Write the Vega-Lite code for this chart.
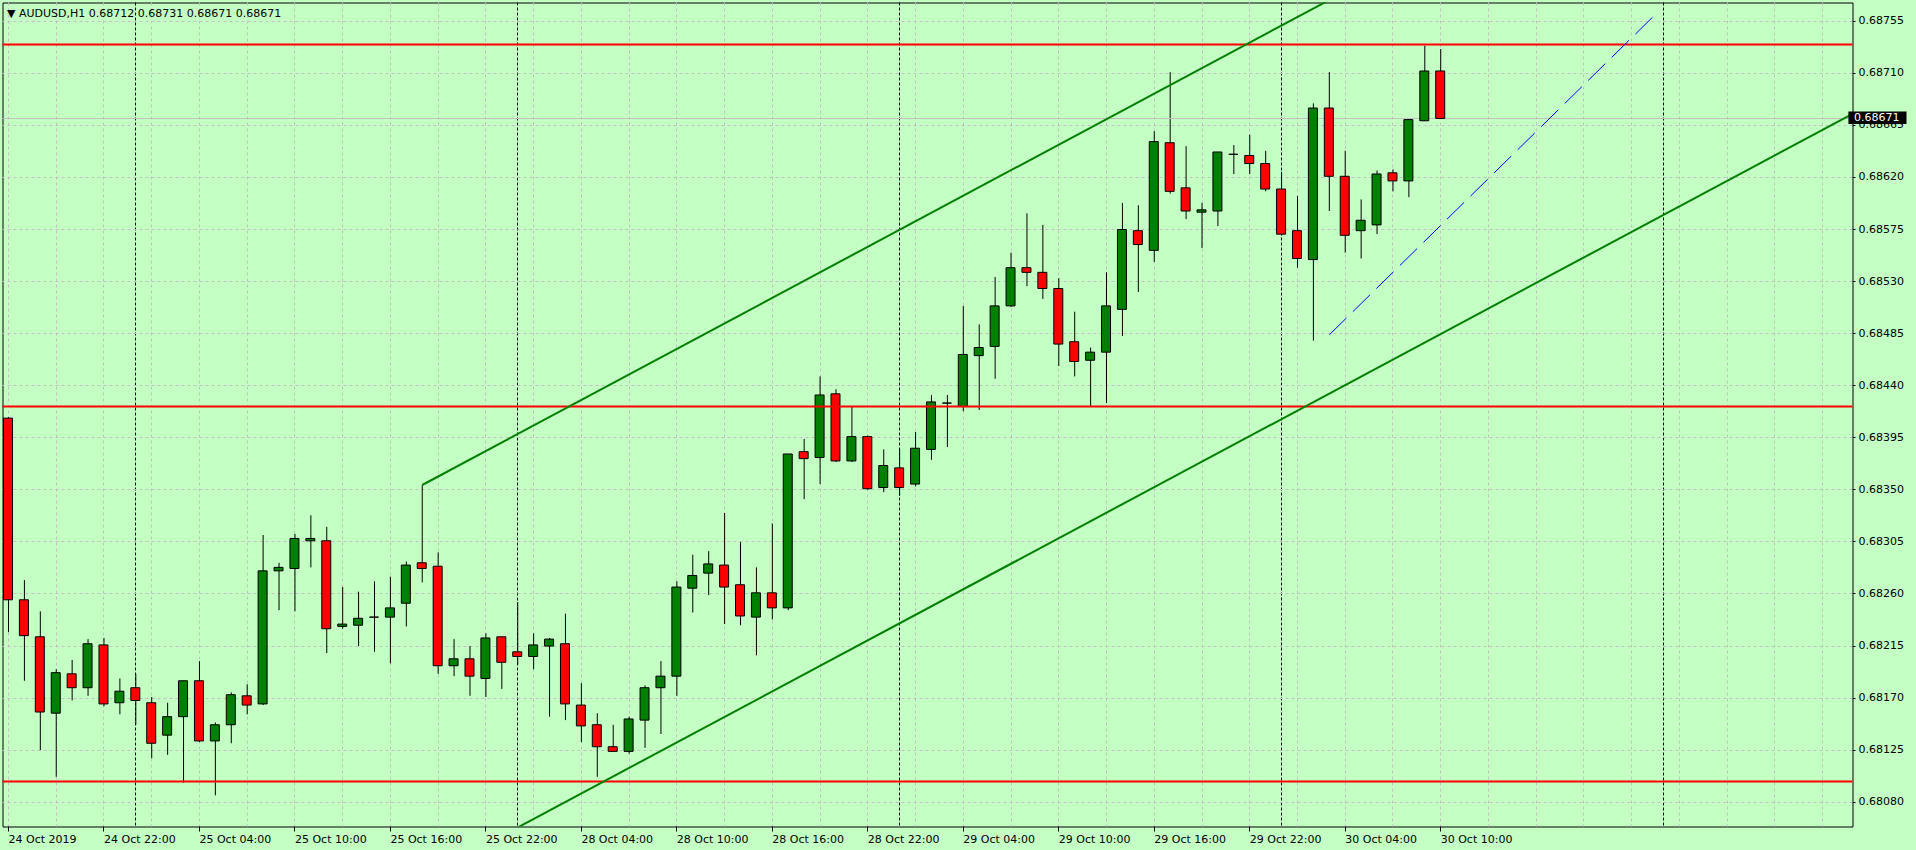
{
  "$schema": "https://vega.github.io/schema/vega-lite/v6.json",
  "width": 1850,
  "height": 824,
  "autosize": {"type": "none"},
  "padding": {"left": 2.5, "top": 2.5, "right": 63.5, "bottom": 23.5},
  "background": "#c4ffc4",
  "title": {
    "text": "▼ AUDUSD,H1  0.68712 0.68731 0.68671 0.68671",
    "anchor": "start",
    "frame": "group",
    "orient": "top",
    "offset": -16,
    "baseline": "top",
    "dx": 4.5,
    "font": "DejaVu Sans",
    "fontSize": 11,
    "fontWeight": "normal",
    "color": "#000000"
  },
  "datasets": {
    "candles": [
      {"i":0,"o":0.68412,"h":0.68413,"l":0.68227,"c":0.68255},
      {"i":1,"o":0.68255,"h":0.68272,"l":0.68185,"c":0.68224},
      {"i":2,"o":0.68223,"h":0.68245,"l":0.68125,"c":0.68158},
      {"i":3,"o":0.68157,"h":0.68195,"l":0.68102,"c":0.68192},
      {"i":4,"o":0.68191,"h":0.68203,"l":0.68168,"c":0.68179},
      {"i":5,"o":0.68179,"h":0.68221,"l":0.68172,"c":0.68217},
      {"i":6,"o":0.68216,"h":0.68222,"l":0.68163,"c":0.68165},
      {"i":7,"o":0.68166,"h":0.68187,"l":0.68156,"c":0.68176},
      {"i":8,"o":0.68179,"h":0.68191,"l":0.68147,"c":0.68168},
      {"i":9,"o":0.68166,"h":0.68171,"l":0.68118,"c":0.68131},
      {"i":10,"o":0.68138,"h":0.68166,"l":0.68121,"c":0.68154},
      {"i":11,"o":0.68154,"h":0.68185,"l":0.68097,"c":0.68185},
      {"i":12,"o":0.68185,"h":0.68202,"l":0.68132,"c":0.68133},
      {"i":13,"o":0.68133,"h":0.68149,"l":0.68086,"c":0.68147},
      {"i":14,"o":0.68147,"h":0.68175,"l":0.68131,"c":0.68173},
      {"i":15,"o":0.68172,"h":0.68182,"l":0.68156,"c":0.68164},
      {"i":16,"o":0.68165,"h":0.68311,"l":0.68164,"c":0.68280},
      {"i":17,"o":0.68280,"h":0.68287,"l":0.68246,"c":0.68283},
      {"i":18,"o":0.68282,"h":0.68312,"l":0.68245,"c":0.68308},
      {"i":19,"o":0.68306,"h":0.68328,"l":0.68283,"c":0.68308},
      {"i":20,"o":0.68306,"h":0.68318,"l":0.68209,"c":0.68230},
      {"i":21,"o":0.68232,"h":0.68266,"l":0.68230,"c":0.68234},
      {"i":22,"o":0.68233,"h":0.68262,"l":0.68215,"c":0.68239},
      {"i":23,"o":0.68240,"h":0.68271,"l":0.68210,"c":0.68240},
      {"i":24,"o":0.68240,"h":0.68275,"l":0.68200,"c":0.68248},
      {"i":25,"o":0.68252,"h":0.68288,"l":0.68232,"c":0.68285},
      {"i":26,"o":0.68287,"h":0.68354,"l":0.68270,"c":0.68282},
      {"i":27,"o":0.68284,"h":0.68296,"l":0.68191,"c":0.68198},
      {"i":28,"o":0.68198,"h":0.68221,"l":0.68189,"c":0.68204},
      {"i":29,"o":0.68204,"h":0.68215,"l":0.68172,"c":0.68189},
      {"i":30,"o":0.68187,"h":0.68226,"l":0.68171,"c":0.68222},
      {"i":31,"o":0.68223,"h":0.68223,"l":0.68178,"c":0.68201},
      {"i":32,"o":0.68210,"h":0.68253,"l":0.68199,"c":0.68206},
      {"i":33,"o":0.68206,"h":0.68226,"l":0.68195,"c":0.68216},
      {"i":34,"o":0.68215,"h":0.68222,"l":0.68154,"c":0.68221},
      {"i":35,"o":0.68217,"h":0.68243,"l":0.68151,"c":0.68165},
      {"i":36,"o":0.68164,"h":0.68183,"l":0.68132,"c":0.68146},
      {"i":37,"o":0.68147,"h":0.68157,"l":0.68102,"c":0.68128},
      {"i":38,"o":0.68128,"h":0.68147,"l":0.68124,"c":0.68124},
      {"i":39,"o":0.68124,"h":0.68154,"l":0.68122,"c":0.68152},
      {"i":40,"o":0.68151,"h":0.68181,"l":0.68127,"c":0.68179},
      {"i":41,"o":0.68179,"h":0.68202,"l":0.68139,"c":0.68189},
      {"i":42,"o":0.68189,"h":0.68271,"l":0.68172,"c":0.68266},
      {"i":43,"o":0.68265,"h":0.68294,"l":0.68244,"c":0.68276},
      {"i":44,"o":0.68278,"h":0.68297,"l":0.68259,"c":0.68286},
      {"i":45,"o":0.68285,"h":0.68330,"l":0.68234,"c":0.68266},
      {"i":46,"o":0.68268,"h":0.68305,"l":0.68233,"c":0.68241},
      {"i":47,"o":0.68240,"h":0.68283,"l":0.68207,"c":0.68261},
      {"i":48,"o":0.68261,"h":0.68321,"l":0.68238,"c":0.68248},
      {"i":49,"o":0.68248,"h":0.68381,"l":0.68246,"c":0.68381},
      {"i":50,"o":0.68383,"h":0.68394,"l":0.68342,"c":0.68377},
      {"i":51,"o":0.68378,"h":0.68448,"l":0.68355,"c":0.68432},
      {"i":52,"o":0.68433,"h":0.68437,"l":0.68374,"c":0.68375},
      {"i":53,"o":0.68375,"h":0.68422,"l":0.68374,"c":0.68396},
      {"i":54,"o":0.68396,"h":0.68397,"l":0.68350,"c":0.68351},
      {"i":55,"o":0.68352,"h":0.68385,"l":0.68348,"c":0.68371},
      {"i":56,"o":0.68369,"h":0.68385,"l":0.68345,"c":0.68352},
      {"i":57,"o":0.68355,"h":0.68400,"l":0.68353,"c":0.68386},
      {"i":58,"o":0.68385,"h":0.68432,"l":0.68376,"c":0.68426},
      {"i":59,"o":0.68425,"h":0.68432,"l":0.68387,"c":0.68425},
      {"i":60,"o":0.68422,"h":0.68509,"l":0.68418,"c":0.68467},
      {"i":61,"o":0.68466,"h":0.68493,"l":0.68419,"c":0.68473},
      {"i":62,"o":0.68474,"h":0.68534,"l":0.68446,"c":0.68509},
      {"i":63,"o":0.68509,"h":0.68555,"l":0.68508,"c":0.68542},
      {"i":64,"o":0.68542,"h":0.68589,"l":0.68526,"c":0.68538},
      {"i":65,"o":0.68538,"h":0.68579,"l":0.68515,"c":0.68524},
      {"i":66,"o":0.68524,"h":0.68533,"l":0.68457,"c":0.68476},
      {"i":67,"o":0.68478,"h":0.68504,"l":0.68448,"c":0.68461},
      {"i":68,"o":0.68462,"h":0.68473,"l":0.68422,"c":0.68469},
      {"i":69,"o":0.68469,"h":0.68538,"l":0.68425,"c":0.68509},
      {"i":70,"o":0.68506,"h":0.68598,"l":0.68483,"c":0.68575},
      {"i":71,"o":0.68574,"h":0.68596,"l":0.68521,"c":0.68562},
      {"i":72,"o":0.68557,"h":0.68660,"l":0.68547,"c":0.68651},
      {"i":73,"o":0.68650,"h":0.68711,"l":0.68606,"c":0.68608},
      {"i":74,"o":0.68611,"h":0.68647,"l":0.68584,"c":0.68591},
      {"i":75,"o":0.68590,"h":0.68598,"l":0.68559,"c":0.68592},
      {"i":76,"o":0.68591,"h":0.68642,"l":0.68578,"c":0.68642},
      {"i":77,"o":0.68640,"h":0.68648,"l":0.68623,"c":0.68640},
      {"i":78,"o":0.68639,"h":0.68657,"l":0.68623,"c":0.68632},
      {"i":79,"o":0.68632,"h":0.68643,"l":0.68608,"c":0.68610},
      {"i":80,"o":0.68610,"h":0.68625,"l":0.68570,"c":0.68571},
      {"i":81,"o":0.68574,"h":0.68604,"l":0.68542,"c":0.68550},
      {"i":82,"o":0.68549,"h":0.68684,"l":0.68479,"c":0.68680},
      {"i":83,"o":0.68680,"h":0.68711,"l":0.68591,"c":0.68621},
      {"i":84,"o":0.68621,"h":0.68643,"l":0.68555,"c":0.68570},
      {"i":85,"o":0.68574,"h":0.68601,"l":0.68550,"c":0.68583},
      {"i":86,"o":0.68579,"h":0.68626,"l":0.68571,"c":0.68623},
      {"i":87,"o":0.68624,"h":0.68627,"l":0.68608,"c":0.68617},
      {"i":88,"o":0.68617,"h":0.68671,"l":0.68603,"c":0.68670},
      {"i":89,"o":0.68669,"h":0.68734,"l":0.68669,"c":0.68712},
      {"i":90,"o":0.68712,"h":0.68731,"l":0.68671,"c":0.68671}
    ],
    "levels": [{"p":0.68735},{"p":0.68422},{"p":0.68098}],
    "channel": [
      {"line":"upper","i":26,"p":0.683542},
      {"line":"upper","i":116,"p":0.690160},
      {"line":"lower","i":26,"p":0.680141},
      {"line":"lower","i":116,"p":0.686759}
    ],
    "trend": [
      {"i":83,"p":0.68484},
      {"i":103.5,"p":0.68761}
    ]
  },
  "layer": [
    {
      "data": {"name": "candles"},
      "mark": {"type": "rule", "color": "#000000", "strokeWidth": 1},
      "encoding": {
        "x": {
          "field": "i", "type": "quantitative",
          "scale": {"domain": [-0.0625, 115.5625], "nice": false, "zero": false},
          "axis": {
            "orient": "bottom",
            "title": null,
            "domain": false,
            "values": [0,3,6,8,9,12,15,18,21,24,27,30,32,33,36,39,42,45,48,51,54,56,57,60,63,66,69,72,75,78,80,81,84,87,90,93,96,99,102,104,105,108,111,114],
            "grid": true,
            "gridColor": {"condition": {"test": "datum.value % 3 != 0", "value": "#000000"}, "value": "#c0c0c0"},
            "gridDash": {"condition": {"test": "datum.value % 3 != 0", "value": [3, 2]}, "value": [3, 3]},
            "ticks": true,
            "tickSize": 5,
            "tickColor": "#000000",
            "tickOpacity": {"condition": {"test": "datum.value % 6 == 0 && datum.value <= 90", "value": 1}, "value": 0},
            "labelExpr": "(datum.value % 6 == 0 && datum.value <= 90) ? ['24 Oct 2019','24 Oct 22:00','25 Oct 04:00','25 Oct 10:00','25 Oct 16:00','25 Oct 22:00','28 Oct 04:00','28 Oct 10:00','28 Oct 16:00','28 Oct 22:00','29 Oct 04:00','29 Oct 10:00','29 Oct 16:00','29 Oct 22:00','30 Oct 04:00','30 Oct 10:00'][datum.value / 6] : ''",
            "labelAlign": "left",
            "labelBaseline": "top",
            "labelPadding": 2,
            "labelOverlap": false,
            "labelFlush": false,
            "labelBound": false,
            "labelFont": "DejaVu Sans",
            "labelFontSize": 11,
            "labelColor": "#000000",
            "translate": 0
          }
        },
        "y": {
          "field": "l", "type": "quantitative",
          "scale": {"domain": [0.6805906, 0.687712], "nice": false, "zero": false},
          "axis": {
            "orient": "right",
            "title": null,
            "domain": false,
            "values": [0.6808,0.68125,0.6817,0.68215,0.6826,0.68305,0.6835,0.68395,0.6844,0.68485,0.6853,0.68575,0.6862,0.68665,0.6871,0.68755],
            "format": ".5f",
            "grid": true,
            "gridColor": "#c0c0c0",
            "gridDash": [3, 3],
            "ticks": true,
            "tickSize": 3,
            "tickColor": "#000000",
            "labelAlign": "left",
            "labelBaseline": "middle",
            "labelPadding": 3,
            "labelOverlap": false,
            "labelFlush": false,
            "labelBound": false,
            "labelFont": "DejaVu Sans",
            "labelFontSize": 11,
            "labelColor": "#000000",
            "translate": 0
          }
        },
        "y2": {"field": "h"}
      }
    },
    {
      "data": {"name": "candles"},
      "transform": [{"filter": "datum.i == 90"}],
      "mark": {"type": "rule", "color": "#c0c0c0", "strokeWidth": 1},
      "encoding": {
        "y": {"field": "c", "type": "quantitative", "scale": {"domain": [0.6805906, 0.687712], "nice": false, "zero": false}}
      }
    },
    {
      "data": {"name": "candles"},
      "mark": {"type": "bar", "size": 9, "stroke": "#000000", "strokeWidth": 1, "xOffset": -0.5, "clip": true},
      "encoding": {
        "x": {"field": "i", "type": "quantitative", "scale": {"domain": [-0.0625, 115.5625], "nice": false, "zero": false}},
        "y": {"field": "o", "type": "quantitative", "scale": {"domain": [0.6805906, 0.687712], "nice": false, "zero": false}},
        "y2": {"field": "c"},
        "color": {"condition": {"test": "datum.c >= datum.o", "value": "#008000"}, "value": "#ff0000"}
      }
    },
    {
      "data": {"name": "levels"},
      "mark": {"type": "rule", "color": "#ff0000", "strokeWidth": 2},
      "encoding": {
        "y": {"field": "p", "type": "quantitative", "scale": {"domain": [0.6805906, 0.687712], "nice": false, "zero": false}}
      }
    },
    {
      "data": {"name": "channel"},
      "mark": {"type": "line", "color": "#008000", "strokeWidth": 2, "clip": true},
      "encoding": {
        "x": {"field": "i", "type": "quantitative", "scale": {"domain": [-0.0625, 115.5625], "nice": false, "zero": false}},
        "y": {"field": "p", "type": "quantitative", "scale": {"domain": [0.6805906, 0.687712], "nice": false, "zero": false}},
        "detail": {"field": "line", "type": "nominal"}
      }
    },
    {
      "data": {"name": "trend"},
      "mark": {"type": "line", "color": "#0000ff", "strokeWidth": 1, "strokeDash": [24, 9], "clip": true},
      "encoding": {
        "x": {"field": "i", "type": "quantitative", "scale": {"domain": [-0.0625, 115.5625], "nice": false, "zero": false}},
        "y": {"field": "p", "type": "quantitative", "scale": {"domain": [0.6805906, 0.687712], "nice": false, "zero": false}}
      }
    },
    {
      "data": {"name": "candles"},
      "transform": [{"filter": "datum.i == 90"}],
      "mark": {"type": "rect", "color": "#000000"},
      "encoding": {
        "x": {"datum": 115.62, "type": "quantitative", "scale": {"domain": [-0.0625, 115.5625], "nice": false, "zero": false}},
        "x2": {"datum": 119.27},
        "y": {"datum": 0.68677, "type": "quantitative", "scale": {"domain": [0.6805906, 0.687712], "nice": false, "zero": false}},
        "y2": {"datum": 0.686662}
      }
    },
    {
      "data": {"name": "candles"},
      "transform": [{"filter": "datum.i == 90"}],
      "mark": {"type": "text", "color": "#ffffff", "align": "left", "baseline": "middle", "font": "DejaVu Sans", "fontSize": 11},
      "encoding": {
        "x": {"datum": 115.97, "type": "quantitative", "scale": {"domain": [-0.0625, 115.5625], "nice": false, "zero": false}},
        "y": {"field": "c", "type": "quantitative", "scale": {"domain": [0.6805906, 0.687712], "nice": false, "zero": false}},
        "text": {"field": "c", "type": "quantitative", "format": ".5f"}
      }
    }
  ],
  "config": {
    "view": {"stroke": "#000000", "strokeWidth": 1, "fill": "#c4ffc4"},
    "axis": {"title": null},
    "font": "DejaVu Sans"
  }
}
